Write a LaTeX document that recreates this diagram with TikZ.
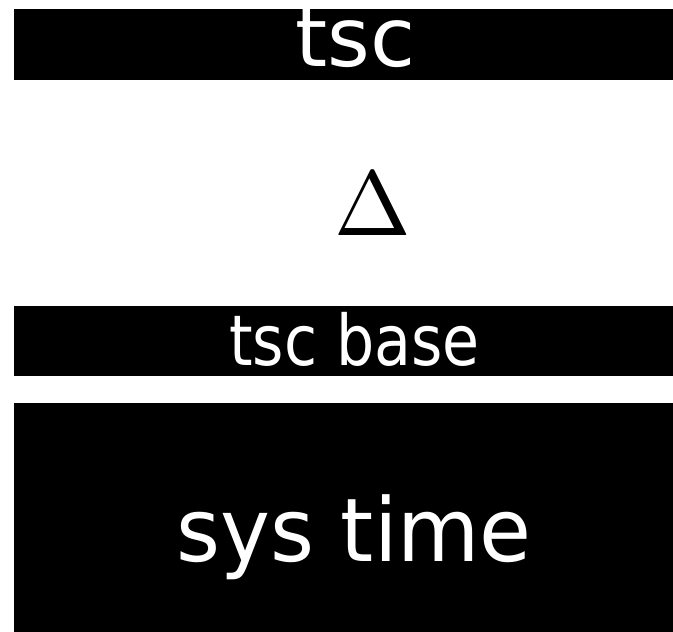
\documentclass[tikz,border=0pt]{standalone}
\usepackage[no-math]{fontspec}
\setmainfont{DejaVu Sans}

\begin{document}
\begin{tikzpicture}[x=1pt,y=1pt,bar/.style={fill=black},word/.style={text=white,inner sep=0pt,anchor=base}]
\useasboundingbox (0,0) rectangle (673,632);

% three black strips
\fill[bar] (14,552) rectangle (673,623);
\fill[bar] (14,256) rectangle (673,326);
\fill[bar] (14,0) rectangle (673,229);

\node[word,font=\fontsize{82}{90}\selectfont] (tsc) at (355.5,565) {tsc};
\node[anchor=base,inner sep=0pt,scale=9.2] (delta) at (372.5,396) {$\Delta$};
\node[word,xscale=0.86,font=\fontsize{70}{78}\selectfont] (base) at (354.5,266) {tsc base};
\node[word,xscale=0.96,font=\fontsize{88}{96}\selectfont] (systime) at (354,70) {sys time};
\end{tikzpicture}
\end{document}
